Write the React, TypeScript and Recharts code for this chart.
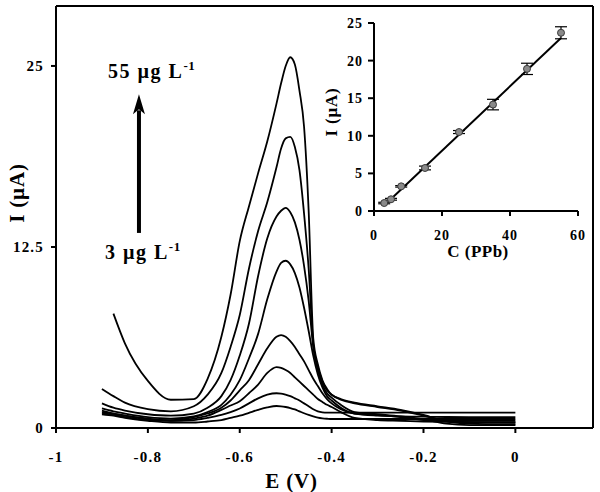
import React from 'react';
import {
  LineChart,
  Line,
  XAxis,
  YAxis,
  ReferenceLine,
  ReferenceDot,
  ComposedChart,
  Scatter,
  ErrorBar,
} from 'recharts';

const FONT = '"Liberation Serif", "Times New Roman", serif';

// Potential sweep (V), shared by every voltammogram
const potential = [
  -0.9, -0.875, -0.85, -0.8, -0.75, -0.7, -0.67, -0.64, -0.62, -0.6, -0.58, -0.56,
  -0.54, -0.52, -0.51, -0.5, -0.49, -0.48, -0.47, -0.46, -0.45, -0.44, -0.43, -0.42,
  -0.41, -0.4, -0.38, -0.35, -0.3, -0.25, -0.2, -0.15, -0.1, 0,
];

// Current (µA) for each concentration, one value per potential step
const i55 = [
  null, 7.9, 5.85, 3.25, 1.95, 2.0, 3.4, 6.3, 9.2, 12.9, 15.3, 17.6,
  19.8, 22.4, 23.8, 25.0, 25.6, 25.1, 23.3, 20.8, 15.0, 6.2, 4.4, 3.3,
  2.7, 2.3, 2.0, 1.75, 1.5, 1.25, 0.9, 0.45, 0.3, 0.25,
];
const i45 = [
  2.7, 2.2, 1.75, 1.3, 1.15, 1.5, 2.3, 3.8, 5.6, 7.8, 11.0, 13.6,
  15.6, 18.0, 19.3, 20.0, 20.1, 19.4, 17.8, 14.8, 11.0, 5.8, 4.2, 3.2,
  2.6, 2.3, 1.95, 1.7, 1.45, 1.2, 0.85, 0.5, 0.4, 0.35,
];
const i35 = [
  1.7, 1.4, 1.2, 0.95, 0.85, 1.0, 1.4, 2.2, 3.3, 5.0, 7.2, 10.5,
  13.1, 14.6, 15.0, 15.2, 14.9, 14.2, 13.0, 11.2, 8.8, 5.6, 4.0, 3.0,
  2.4, 2.1, 1.6, 1.1, 0.95, 0.8, 0.6, 0.3, 0.2, 0.2,
];
const i25 = [
  1.35, 1.15, 1.0, 0.75, 0.65, 0.8, 1.1, 1.6, 2.3, 3.3, 4.8, 6.5,
  8.9, 10.8, 11.4, 11.55, 11.3, 10.7, 9.7, 8.3, 6.7, 5.0, 3.7, 2.8,
  2.2, 1.9, 1.4, 1.0, 0.9, 0.75, 0.55, 0.5, 0.5, 0.5,
];
const i15 = [
  1.2, 1.0, 0.85, 0.6, 0.55, 0.75, 1.0, 1.4, 1.9, 2.6, 3.3, 4.4,
  5.5, 6.3, 6.42, 6.3, 6.0, 5.6, 5.1, 4.6, 4.0, 3.4, 2.9, 2.4,
  2.0, 1.7, 1.3, 1.0, 0.85, 0.8, 0.78, 0.76, 0.75, 0.75,
];
const i8 = [
  1.05, 0.9, 0.75, 0.55, 0.5, 0.65, 0.85, 1.25, 1.55, 1.85, 2.4, 3.0,
  3.8, 4.2, 4.15, 4.0, 3.8, 3.5, 3.2, 2.9, 2.6, 2.3, 2.0, 1.8,
  1.6, 1.45, 1.1, 0.7, 0.55, 0.5, 0.45, 0.42, 0.4, 0.4,
];
const i5 = [
  1.1, 1.0, 0.85, 0.65, 0.5, 0.55, 0.7, 0.9, 1.1, 1.35, 1.7, 2.05,
  2.3, 2.4, 2.38, 2.3, 2.2, 2.05, 1.9, 1.7, 1.5, 1.3, 1.15, 1.08,
  1.06, 1.06, 1.06, 1.06, 1.06, 1.06, 1.06, 1.06, 1.06, 1.06,
];
const i3 = [
  0.95, 0.85, 0.7, 0.5, 0.38, 0.38, 0.45, 0.55, 0.7, 0.85, 1.05, 1.25,
  1.42, 1.52, 1.5, 1.45, 1.38, 1.28, 1.15, 1.02, 0.9, 0.8, 0.72, 0.67,
  0.64, 0.62, 0.62, 0.62, 0.62, 0.62, 0.62, 0.62, 0.62, 0.62,
];

const potentialTicks = [-1, -0.8, -0.6, -0.4, -0.2, 0];
const currentTicks = [0, 12.5, 25];

// Calibration inset
const concentration = [3, 5, 8, 15, 25, 35, 45, 55];
const peakCurrent = [1.06, 1.56, 3.28, 5.72, 10.5, 14.15, 18.9, 23.7];
const peakError = [0.1, 0.12, 0.1, 0.25, 0.2, 0.7, 0.75, 0.8];
const fitConcentration = [5, 55];
const fitCurrent = [1.6, 23.0];

const series: [string, (number | null)[]][] = [
  ['c55', i55],
  ['c45', i45],
  ['c35', i35],
  ['c25', i25],
  ['c15', i15],
  ['c8', i8],
  ['c5', i5],
  ['c3', i3],
];

const rows = potential.map((e, k) => {
  const row: Record<string, number | null> = { e };
  series.forEach(([key, values]) => {
    row[key] = values[k];
  });
  return row;
});

const pointRows = concentration.map((c, k) => ({ c, i: peakCurrent[k], err: peakError[k] }));
const fitRows = fitConcentration.map((c, k) => ({ c, i: fitCurrent[k] }));

const axisStroke = { stroke: '#000', strokeWidth: 2 };
const tickText = {
  fontFamily: FONT,
  fontSize: 15,
  fontWeight: 700,
  fill: '#000',
  letterSpacing: 1.2,
  style: { fontWeight: 700 },
};
const insetTickText = {
  fontFamily: FONT,
  fontSize: 14,
  fontWeight: 700,
  fill: '#000',
  letterSpacing: 1,
  style: { fontWeight: 700 },
};

// Arrow between the two concentration labels
const Arrow = (props: any) => {
  const { x1, y1, x2, y2 } = props;
  const tipY = Math.min(y1, y2);
  const baseY = Math.max(y1, y2);
  const x = (x1 + x2) / 2;
  return (
    <g>
      <line x1={x} y1={baseY} x2={x} y2={tipY + 16} stroke="#000" strokeWidth={4} />
      <polygon points={`${x},${tipY} ${x - 6},${tipY + 20} ${x},${tipY + 15} ${x + 6},${tipY + 20}`} fill="#000" />
    </g>
  );
};

const concLabel = (text: string) => (props: any) => (
  <text
    x={props.cx}
    y={props.cy}
    fontFamily={FONT}
    fontSize={20}
    fontWeight={700}
    letterSpacing={1.5}
    fill="#000"
  >
    {text}
    <tspan dy={-8} fontSize={13} letterSpacing={0.5}>-1</tspan>
  </text>
);

const PointShape = (props: any) => (
  <circle cx={props.cx} cy={props.cy} r={3.5} fill="#8a8a8a" stroke="#3a3a3a" strokeWidth={1} />
);

export default function App() {
  return (
    <div
      style={{
        position: 'absolute',
        left: 0,
        top: 0,
        width: 600,
        height: 492,
        background: '#fff',
        fontFamily: FONT,
        fontWeight: 700,
      }}
    >
      <LineChart width={600} height={492} data={rows} margin={{ top: 6, right: 7, bottom: 0, left: 0 }}>
        <XAxis
          dataKey="e"
          type="number"
          domain={[-1, 0.169]}
          allowDataOverflow
          ticks={potentialTicks}
          interval={0}
          height={64}
          axisLine={axisStroke}
          tickLine={axisStroke}
          tickSize={5}
          tickMargin={18}
          tick={tickText}
          label={{
            value: 'E (V)',
            position: 'center',
            dx: -33,
            dy: 20.5,
            fontFamily: FONT,
            fontSize: 21,
            fontWeight: 700,
            fill: '#000',
            letterSpacing: 0.8,
          }}
        />
        <YAxis
          type="number"
          domain={[0, 29.14]}
          allowDataOverflow
          ticks={currentTicks}
          interval={0}
          width={56}
          axisLine={axisStroke}
          tickLine={axisStroke}
          tickSize={5}
          tickMargin={7}
          tick={tickText}
          label={{
            value: 'I (µA)',
            position: 'center',
            angle: -90,
            dx: -11,
            dy: -24,
            fontFamily: FONT,
            fontSize: 21,
            fontWeight: 700,
            fill: '#000',
            letterSpacing: 0.8,
          }}
        />
        {/* closing frame on top and right */}
        <ReferenceLine y={29.14} stroke="#000" strokeWidth={2} />
        <ReferenceLine x={0.169} stroke="#000" strokeWidth={2} />

        {series.map(([key]) => (
          <Line
            key={key}
            dataKey={key}
            type="monotone"
            stroke="#000"
            strokeWidth={1.8}
            dot={false}
            activeDot={false}
            isAnimationActive={false}
          />
        ))}

        <ReferenceLine
          segment={[{ x: -0.8194, y: 13.47 }, { x: -0.8194, y: 23.04 }]}
          shape={Arrow}
        />
        <ReferenceDot x={-0.8868} y={24.17} r={0} shape={concLabel('55 µg L')} />
        <ReferenceDot x={-0.8934} y={11.67} r={0} shape={concLabel('3 µg L')} />
      </LineChart>

      {/* calibration plot */}
      <div style={{ position: 'absolute', left: 300, top: 0 }}>
        <ComposedChart width={300} height={270} margin={{ top: 23, right: 22, bottom: 0, left: 0 }}>
          <XAxis
            dataKey="c"
            type="number"
            domain={[0, 60]}
            ticks={[0, 20, 40, 60]}
            interval={0}
            height={59}
            axisLine={axisStroke}
            tickLine={axisStroke}
            tickSize={5}
            tickMargin={14}
            tick={insetTickText}
            label={{
              value: 'C (PPb)',
              position: 'center',
              dx: 2,
              dy: 10.5,
              fontFamily: FONT,
              fontSize: 17,
              fontWeight: 700,
              fill: '#000',
              letterSpacing: 0.5,
            }}
          />
          <YAxis
            type="number"
            domain={[0, 25]}
            ticks={[0, 5, 10, 15, 20, 25]}
            interval={0}
            width={74}
            axisLine={axisStroke}
            tickLine={axisStroke}
            tickSize={6}
            tickMargin={5}
            tick={insetTickText}
            label={{
              value: 'I (µA)',
              position: 'center',
              angle: -90,
              dx: -6,
              dy: -5,
              fontFamily: FONT,
              fontSize: 17,
              fontWeight: 700,
              fill: '#000',
              letterSpacing: 0.8,
            }}
          />
          <Line
            data={fitRows}
            dataKey="i"
            type="linear"
            stroke="#000"
            strokeWidth={2}
            dot={false}
            activeDot={false}
            isAnimationActive={false}
          />
          <Scatter data={pointRows} dataKey="i" shape={PointShape} isAnimationActive={false}>
            <ErrorBar dataKey="err" direction="y" width={6} stroke="#000" strokeWidth={1.2} isAnimationActive={false} />
          </Scatter>
        </ComposedChart>
      </div>
    </div>
  );
}
